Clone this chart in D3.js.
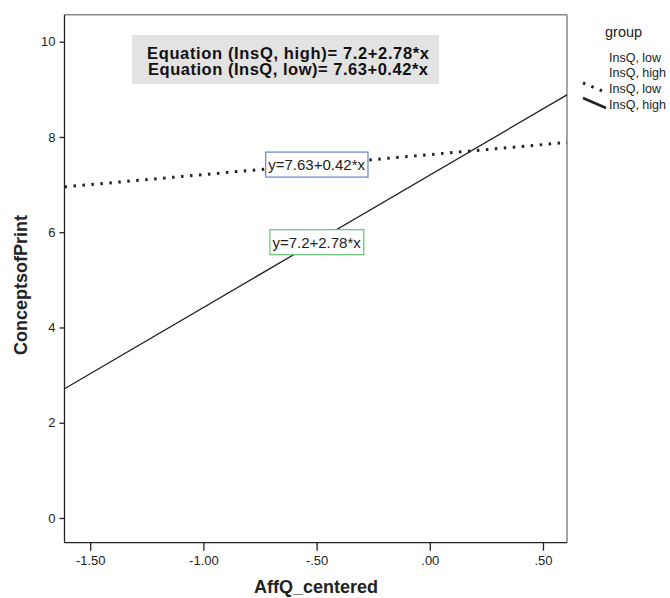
<!DOCTYPE html>
<html><head><meta charset="utf-8">
<script src="https://cdn.jsdelivr.net/npm/d3@7"></script>
<style>body{margin:0;background:#fff}svg{display:block;font-family:"Liberation Sans",Arial,sans-serif}</style>
</head><body><svg id="c" width="670" height="598"></svg>
<script>
const groups = ["InsQ, high", "InsQ, low"];
const intercepts = [7.2, 7.63];
const slopes = [2.78, 0.42];
const xDomain = [-1.6135, 0.606];
const yDomain = [-0.519, 10.567];
const xTicks = [-1.5, -1.0, -0.5, 0.0, 0.5];
const xTickLabels = ["-1.50", "-1.00", "-.50", ".00", ".50"];
const yTicks = [0, 2, 4, 6, 8, 10];
const eqLines = ["Equation (InsQ, high)= 7.2+2.78*x", "Equation (InsQ, low)= 7.63+0.42*x"];
const lineLabels = ["y=7.2+2.78*x", "y=7.63+0.42*x"];

const svg = d3.select("#c");
const L = 64.5, R = 567, T = 14.7, B = 542.7;
const x = d3.scaleLinear().domain(xDomain).range([L, R]);
const y = d3.scaleLinear().domain(yDomain).range([B, T]);

// frame: top & right gray
svg.append("line").attr("x1", L).attr("x2", R).attr("y1", T).attr("y2", T).attr("stroke", "#888").attr("stroke-width", 1.5);
svg.append("line").attr("x1", R).attr("x2", R).attr("y1", T).attr("y2", B).attr("stroke", "#888").attr("stroke-width", 1.5);

// axes
const xa = svg.append("g").attr("transform", `translate(0,${B})`)
  .call(d3.axisBottom(x).tickValues(xTicks).tickFormat((d, i) => xTickLabels[i]).tickSize(8).tickSizeOuter(0));
const ya = svg.append("g").attr("transform", `translate(${L},0)`)
  .call(d3.axisLeft(y).tickValues(yTicks).tickSize(5).tickSizeOuter(0));
[xa, ya].forEach(g => {
  g.select(".domain").attr("stroke", "#222").attr("stroke-width", 1.3);
  g.selectAll(".tick line").attr("stroke", "#222").attr("stroke-width", 1.3);
  g.selectAll("text").attr("font-size", 13).attr("fill", "#222").attr("font-family", "Liberation Sans, Arial, sans-serif");
});
xa.select(".domain").attr("d", `M${L},0H${R}`);
ya.select(".domain").attr("d", `M0,${T}V${B}`);
xa.selectAll("text").attr("dy", "0.85em");
ya.selectAll("text").attr("dx", "-1");

// lines
const styles = [{dash: null, w: 1.3}, {dash: "2.5,6.5", w: 3}];
groups.forEach((g, i) => {
  const f = v => intercepts[i] + slopes[i] * v;
  svg.append("line")
    .attr("x1", x(xDomain[0])).attr("y1", y(f(xDomain[0])))
    .attr("x2", x(xDomain[1])).attr("y2", y(f(xDomain[1])))
    .attr("stroke", "#222").attr("stroke-width", styles[i].w)
    .attr("stroke-dasharray", styles[i].dash);
});

// line labels
const lbl = [{xv: -0.5, yv: 5.79, col: "#63c37a"}, {xv: -0.5, yv: 7.42, col: "#6a7fd0"}];
groups.forEach((g, i) => {
  const grp = svg.append("g");
  const rect = grp.append("rect");
  const t = grp.append("text").attr("x", x(lbl[i].xv)).attr("y", y(lbl[i].yv))
    .attr("text-anchor", "middle").attr("dominant-baseline", "central")
    .attr("font-size", 15).attr("fill", "#222").text(lineLabels[i]);
  const bb = t.node().getBBox();
  rect.attr("x", bb.x - 2.5).attr("y", bb.y - 4).attr("width", bb.width + 5).attr("height", bb.height + 8)
    .attr("fill", "#fff").attr("stroke", lbl[i].col).attr("stroke-width", 1.2);
});

// equation box
svg.append("rect").attr("x", 132).attr("y", 35).attr("width", 307).attr("height", 49).attr("fill", "#e3e3e3");
eqLines.forEach((s, i) => {
  svg.append("text").attr("x", 288).attr("y", 58.5 + i * 16.5).attr("text-anchor", "middle")
    .attr("font-size", 16.5).attr("font-weight", "bold").attr("fill", "#111")
    .attr("textLength", i === 0 ? 282 : 280).attr("lengthAdjust", "spacing").text(s);
});

// axis titles
svg.append("text").attr("x", 316).attr("y", 593).attr("text-anchor", "middle")
  .attr("font-size", 18).attr("font-weight", "bold").attr("fill", "#222").text("AffQ_centered");
svg.append("text").attr("transform", "translate(27,285) rotate(-90)").attr("text-anchor", "middle")
  .attr("font-size", 18).attr("font-weight", "bold").attr("fill", "#222").text("ConceptsofPrint");

// legend
svg.append("text").attr("x", 605).attr("y", 37).attr("font-size", 14.5).attr("fill", "#222").text("group");
const legRows = ["InsQ, low", "InsQ, high", "InsQ, low", "InsQ, high"];
legRows.forEach((s, i) => {
  svg.append("text").attr("x", 609).attr("y", 61.5 + i * 15.7).attr("font-size", 12.5).attr("fill", "#222").text(s);
});
svg.append("line").attr("x1", 583).attr("y1", 83).attr("x2", 605).attr("y2", 92)
  .attr("stroke", "#222").attr("stroke-width", 3).attr("stroke-dasharray", "2.5,6.5");
svg.append("line").attr("x1", 583).attr("y1", 98).attr("x2", 606).attr("y2", 108)
  .attr("stroke", "#222").attr("stroke-width", 2.5);
</script></body></html>
